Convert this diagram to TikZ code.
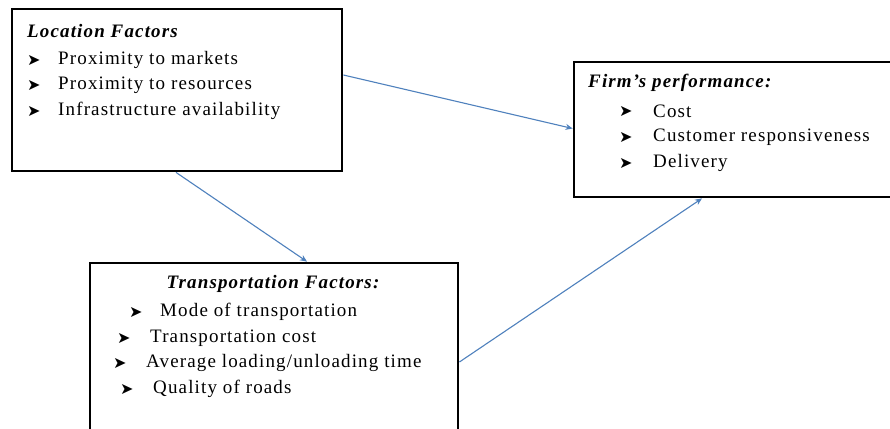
\documentclass[tikz,border=0pt]{standalone}
\usepackage{fontspec}
\setmainfont{Liberation Serif}[LetterSpace=6]
\newfontfamily\symfont{DejaVu Sans}
\definecolor{arrowblue}{RGB}{79,129,189}
\usetikzlibrary{arrows.meta}
\tikzset{
  box/.style={draw=black, line width=2.8pt, rectangle, inner sep=0pt},
  title/.style={anchor=west, inner sep=0pt, font=\fontsize{19}{21}\selectfont\bfseries\itshape},
  item/.style={anchor=west, inner sep=0pt, font=\fontsize{19}{21}\selectfont},
  bul/.style={anchor=west, inner sep=0pt, font=\fontsize{16}{17}\symfont},
  conn/.style={draw=arrowblue, line width=1.1pt, -{Stealth[length=7pt,width=6pt]}}
}
\begin{document}
\begin{tikzpicture}[x=1pt,y=-1pt]
\useasboundingbox (0,0) rectangle (890,428);
\fill[white] (0,0) rectangle (890,428);
\begin{scope}
\clip (0,0) rectangle (890,428);
% boxes
\node[box, minimum width=330pt, minimum height=162pt] (loc) at (177,90) {};
\node[box, minimum width=330pt, minimum height=135pt] (fw) at (739,129.5) {};
\node[box, minimum width=368pt, minimum height=190pt] (tr) at (274,358) {};
\end{scope}
% Location factors
\node[title] (t1) at (27,31) {Location Factors};
\node[bul] (b11) at (27,60) {➤};
\node[item] (i11) at (58,60) {Proximity to markets};
\node[bul] (b12) at (27,85) {➤};
\node[item] (i12) at (58,85) {Proximity to resources};
\node[bul] (b13) at (27,111) {➤};
\node[item] (i13) at (58,111) {Infrastructure availability};
% Firm's performance
\node[title] (t2) at (588,83) {Firm’s performance:};
\node[bul] (b21) at (619,111) {➤};
\node[item] (i21) at (653,111) {Cost};
\node[bul] (b22) at (619,137) {➤};
\node[item] (i22) at (653,137) {Customer responsiveness};
\node[bul] (b23) at (619,163) {➤};
\node[item] (i23) at (653,163) {Delivery};
% Transportation factors
\node[title, anchor=center] (t3) at (273,284) {Transportation Factors:};
\node[bul] (b31) at (129,312) {➤};
\node[item] (i31) at (160,312) {Mode of transportation};
\node[bul] (b32) at (117,338) {➤};
\node[item] (i32) at (150,338) {Transportation cost};
\node[bul] (b33) at (113,363) {➤};
\node[item] (i33) at (146,363) {Average loading/unloading time};
\node[bul] (b34) at (120,389) {➤};
\node[item] (i34) at (153,389) {Quality of roads};
% connectors
\draw[conn] ([yshift=15pt]loc.east) -- ([yshift=1pt]fw.west);
\draw[conn] ([xshift=-1pt]loc.south) -- ([xshift=33pt]tr.north);
\draw[conn] ([yshift=-4pt]tr.east) -- ([xshift=-37pt]fw.south);
\end{tikzpicture}
\end{document}
